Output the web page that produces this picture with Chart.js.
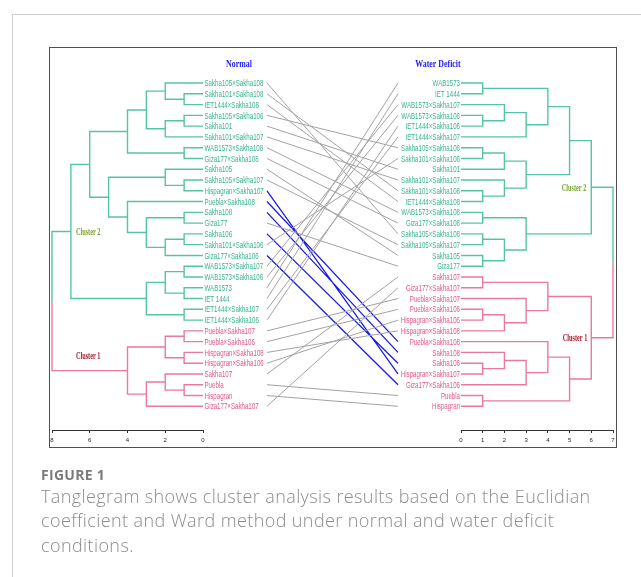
<!DOCTYPE html>
<html>
<head>
<meta charset="utf-8">
<title>Tanglegram</title>
<script src="https://cdn.jsdelivr.net/npm/chart.js@4.4.1/dist/chart.umd.min.js"></script>
<style>
  html, body { margin: 0; padding: 0; background: #fff; }
  body { width: 641px; height: 577px; position: relative; overflow: hidden; }
  #sheet { position: absolute; left: 12px; top: 14px; width: 640px; height: 580px;
           border-left: 1px solid #cfcfcf; border-top: 1px solid #cfcfcf; }
  #frame { position: absolute; left: 49px; top: 47px; width: 566px; height: 399px;
           border: 1px solid #505050; }
  #plot { position: absolute; left: 0; top: 0; width: 641px; height: 577px; }
  .cap { position: absolute; left: 41px; white-space: nowrap;
         font-family: "Open Sans", Lato, sans-serif; }
  .fig { top: 467.6px; font-size: 14px; line-height: 14px; font-weight: 700; color: #7b7b7b; letter-spacing: 0.3px; }
  .txt { top: 483.8px; font-size: 18px; line-height: 24.5px; font-weight: 300; color: #8c8c8c; letter-spacing: 0.4px; }
</style>
</head>
<body>
<div id="sheet"></div>
<div id="frame"></div>
<div id="plot"><canvas id="chart"></canvas></div>
<div class="cap fig">FIGURE 1</div>
<div class="cap txt">Tanglegram shows cluster analysis results based on the Euclidian<br>coefficient and Ward method under normal and water deficit<br>conditions.</div>

<script>
// Leaf order of the Normal dendrogram (top to bottom)
const normalLeaves = [
  "Sakha105×Sakha108", "Sakha101×Sakha108", "IET1444×Sakha108", "Sakha105×Sakha106",
  "Sakha101", "Sakha101×Sakha107", "WAB1573×Sakha108", "Giza177×Sakha108",
  "Sakha105", "Sakha105×Sakha107", "Hispagran×Sakha107", "Puebla×Sakha108",
  "Sakha108", "Giza177", "Sakha106", "Sakha101×Sakha106", "Giza177×Sakha106",
  "WAB1573×Sakha107", "WAB1573×Sakha106", "WAB1573", "IET 1444",
  "IET1444×Sakha107", "IET1444×Sakha106", "Puebla×Sakha107", "Puebla×Sakha106",
  "Hispagran×Sakha108", "Hispagran×Sakha106", "Sakha107", "Puebla", "Hispagran",
  "Giza177×Sakha107"
];
// hclust-style merge table: negative = leaf (1-based position), positive = earlier merge row
const normalMerge = [
  [-2, -3], [-1, 1], [-4, -5], [3, -6], [2, 4], [-7, -8], [5, 6],
  [-10, -11], [-9, 8], [-13, -14], [-15, -16], [11, -17], [10, 12], [-12, 13],
  [9, 14], [7, 15], [-18, -19], [-20, -21], [17, 18], [-22, -23], [19, 20],
  [16, 21], [-24, -25], [-26, -27], [23, 24], [-29, -30], [-28, 26], [27, -31],
  [25, 28], [22, 29]
];
const normalHeight = [
  1, 2, 1, 2, 3, 1, 4,
  1, 2, 1, 1, 2, 3, 4,
  5, 6, 1, 1, 2, 1, 3,
  7, 1, 1, 2, 1, 2, 3,
  4, 8
];

// Leaf order of the Water Deficit dendrogram (top to bottom)
const deficitLeaves = [
  "WAB1573", "IET 1444", "WAB1573×Sakha107", "WAB1573×Sakha106", "IET1444×Sakha106",
  "IET1444×Sakha107", "Sakha105×Sakha106", "Sakha101×Sakha106", "Sakha101",
  "Sakha101×Sakha107", "Sakha101×Sakha108", "IET1444×Sakha108", "WAB1573×Sakha108",
  "Giza177×Sakha108", "Sakha105×Sakha108", "Sakha105×Sakha107", "Sakha105", "Giza177",
  "Sakha107", "Giza177×Sakha107", "Puebla×Sakha107", "Puebla×Sakha106",
  "Hispagran×Sakha106", "Hispagran×Sakha108", "Puebla×Sakha108", "Sakha108", "Sakha106",
  "Hispagran×Sakha107", "Giza177×Sakha106", "Puebla", "Hispagran"
];
const deficitMerge = [
  [-1, -2], [-4, -5], [-3, 2], [3, -6], [1, 4], [-7, -8], [6, -9],
  [-11, -12], [-10, 8], [7, 9], [5, 10], [-13, -14], [-15, -16], [-17, -18],
  [13, 14], [12, 15], [11, 16], [-19, -20], [-22, -23], [19, -24], [-21, 20],
  [18, 21], [-27, -28], [-26, 23], [24, -29], [-25, 25], [-30, -31], [26, 27],
  [22, 28], [17, 29]
];
const deficitHeight = [
  1, 1, 2, 3, 4, 1, 2,
  1, 2, 3, 5, 1, 1, 1,
  2, 3, 6, 1, 1, 2, 3,
  4, 1, 2, 3, 4, 1, 5,
  6, 7
];

// Distance axis ticks
const normalTicks = [0, 2, 4, 6, 8];
const deficitTicks = [0, 1, 2, 3, 4, 5, 6, 7];

// The two top-level groups of each tree (first root child, second root child)
const clusterNames = ["Cluster 2", "Cluster 1"];

const TEAL_LINE = "#55c3a7", TEAL_TEXT = "#36b393";
const PINK_LINE = "#e9799f", PINK_TEXT = "#e2578a";
const GRAY_LINK = "#a2a2a2", BLUE_LINK = "#1c1ce8";

function buildTree(merge, height) {
  const nodes = [];
  const ref = r => r < 0 ? { y: -r - 1, h: 0, leaves: [-r - 1] } : nodes[r - 1];
  merge.forEach(([a, b], k) => {
    const A = ref(a), B = ref(b);
    nodes.push({ a: A, b: B, y: (A.y + B.y) / 2, h: height[k], leaves: A.leaves.concat(B.leaves) });
  });
  const root = nodes[nodes.length - 1];
  const group = [];
  root.a.leaves.forEach(i => group[i] = 0);
  root.b.leaves.forEach(i => group[i] = 1);
  return { nodes, root, group };
}

function treeSegments(tree) {
  const out = [[], []];
  tree.nodes.forEach(n => {
    [n.a, n.b].forEach(c => {
      const g = tree.group[c.leaves[0]];
      out[g].push({ x: c.h, y: c.y }, { x: n.h, y: c.y }, { x: n.h, y: n.y }, { x: n.h, y: null });
    });
  });
  return out;
}

const normalTree = buildTree(normalMerge, normalHeight);
const deficitTree = buildTree(deficitMerge, deficitHeight);
const normalSeg = treeSegments(normalTree);
const deficitSeg = treeSegments(deficitTree);

// Lines joining the same genotype in both trees; blue when its group changes
const grayLinks = [], blueLinks = [];
normalLeaves.forEach((name, i) => {
  const j = deficitLeaves.indexOf(name);
  const target = normalTree.group[i] !== deficitTree.group[j] ? blueLinks : grayLinks;
  target.push({ x: 0, y: i }, { x: 1, y: j }, { x: 1, y: null });
});

function lineSet(data, axis, color, width) {
  return {
    data, xAxisID: axis, yAxisID: "y", borderColor: color, borderWidth: width,
    pointRadius: 0, pointHoverRadius: 0, spanGaps: false, fill: false,
    tension: 0, borderCapStyle: "butt", clip: false
  };
}

function squeezedText(ctx, text, x, y, align, sx) {
  ctx.save();
  ctx.translate(x, y);
  ctx.scale(sx, 1);
  ctx.textAlign = align;
  ctx.textBaseline = "middle";
  ctx.fillText(text, 0, 0);
  ctx.restore();
}

const tangleText = {
  id: "tangleText",
  afterDatasetsDraw(chart) {
    const { ctx, scales } = chart;
    const { xl, xr, y } = scales;
    const labelFont = '9.6px "Liberation Sans", Arial, sans-serif';
    const sx = 0.64;

    // leaf labels
    ctx.font = labelFont;
    const lx = xl.getPixelForValue(0) + 1.5;
    normalLeaves.forEach((name, i) => {
      ctx.fillStyle = normalTree.group[i] === 0 ? TEAL_TEXT : PINK_TEXT;
      squeezedText(ctx, name, lx, y.getPixelForValue(i) + 0.5, "left", sx);
    });
    const rx = xr.getPixelForValue(0) - 1;
    deficitLeaves.forEach((name, i) => {
      ctx.fillStyle = deficitTree.group[i] === 0 ? TEAL_TEXT : PINK_TEXT;
      squeezedText(ctx, name, rx, y.getPixelForValue(i) + 0.5, "right", sx);
    });

    // panel titles
    ctx.font = 'bold 10.5px "Liberation Serif", "Times New Roman", serif';
    ctx.fillStyle = "#2323ee";
    const ty = y.getPixelForValue(0) - 19;
    squeezedText(ctx, "Normal", xl.getPixelForValue(0) + 36, ty, "center", 0.75);
    squeezedText(ctx, "Water Deficit", xr.getPixelForValue(0) - 23, ty, "center", 0.75);

    // cluster names
    ctx.font = 'bold 9.5px "Liberation Serif", "Times New Roman", serif';
    const nR = normalTree.root, dR = deficitTree.root;
    const leftX = xl.getPixelForValue(nR.a.h) + 5;
    ctx.fillStyle = "#7aa62c";
    squeezedText(ctx, clusterNames[0], leftX, y.getPixelForValue(nR.a.y) + 1.5, "left", 0.66);
    squeezedText(ctx, clusterNames[0], xr.getPixelForValue(dR.a.h) - 5, y.getPixelForValue(dR.a.y) + 1, "right", 0.66);
    ctx.fillStyle = "#a8172c";
    squeezedText(ctx, clusterNames[1], leftX, y.getPixelForValue(nR.b.y) - 14, "left", 0.66);
    squeezedText(ctx, clusterNames[1], xr.getPixelForValue(dR.b.h) - 4, y.getPixelForValue(dR.b.y) + 1, "right", 0.66);
  }
};

function distanceAxis(ticks, reverse, weight) {
  return {
    type: "linear", position: "bottom", stack: "dist", stackWeight: weight,
    reverse, min: ticks[0], max: ticks[ticks.length - 1],
    afterBuildTicks: s => { s.ticks = ticks.map(v => ({ value: v })); },
    border: { display: true, color: "#333", width: 1 },
    grid: { display: true, drawOnChartArea: false, drawTicks: true, tickLength: 3, color: "#333", lineWidth: 1 },
    ticks: { padding: 4, color: "#222", font: { family: "Liberation Sans", size: 6 }, autoSkip: false, maxRotation: 0 }
  };
}

new Chart(document.getElementById("chart"), {
  type: "line",
  data: {
    datasets: [
      lineSet(grayLinks, "xm", GRAY_LINK, 1),
      lineSet(blueLinks, "xm", BLUE_LINK, 1.3),
      lineSet(normalSeg[0], "xl", TEAL_LINE, 1.4),
      lineSet(normalSeg[1], "xl", PINK_LINE, 1.4),
      lineSet(deficitSeg[0], "xr", TEAL_LINE, 1.4),
      lineSet(deficitSeg[1], "xr", PINK_LINE, 1.4)
    ]
  },
  options: {
    responsive: true, maintainAspectRatio: false, animation: false,
    events: [],
    layout: { padding: { left: 52, right: 28, top: 50.7, bottom: 128.8 } },
    plugins: { legend: { display: false }, tooltip: { enabled: false }, title: { display: false } },
    scales: {
      xl: distanceAxis(normalTicks, true, 151),
      xm: {
        type: "linear", position: "bottom", stack: "dist", stackWeight: 258,
        min: -0.4885, max: 1.481,
        border: { display: false }, grid: { display: false, drawTicks: false }, ticks: { display: false }
      },
      xr: distanceAxis(deficitTicks, false, 152),
      y: { type: "linear", reverse: true, min: -3, max: 32.2, display: false }
    }
  },
  plugins: [tangleText]
});
</script>
</body>
</html>
